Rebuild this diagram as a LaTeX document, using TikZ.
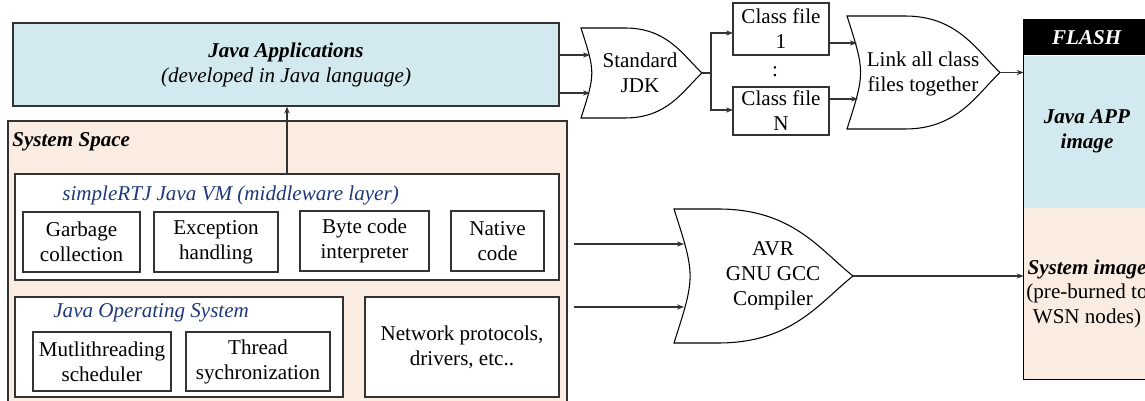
\documentclass[tikz,border=0pt]{standalone}
\usepackage{fontspec}
\setmainfont{Liberation Serif}
\usepackage{tikz}
\usetikzlibrary{positioning, arrows.meta}
\definecolor{appblue}{HTML}{D2E9EF}
\definecolor{syspeach}{HTML}{FBECE2}
\definecolor{vmnavy}{HTML}{1F3A7A}
\tikzset{BoxSize/.style 2 args={%
    minimum width=#1*0.02cm,%
    minimum height=#2*0.02cm,%
}}
\tikzset{AppBox/.style={%
    shape=rectangle,%
    draw=black!80,%
    fill=appblue,%
    line width=0.7pt,%
    inner sep=0pt,%
    align=center,%
}}
\tikzset{SpaceBox/.style={%
    shape=rectangle,%
    draw=black!80,%
    fill=syspeach,%
    line width=0.7pt,%
    inner sep=0pt,%
}}
\tikzset{LayerBox/.style={%
    shape=rectangle,%
    draw=black!80,%
    fill=white,%
    line width=0.6pt,%
    inner sep=0pt,%
    align=center,%
}}
\tikzset{LayerTitle/.style={%
    anchor=west,%
    inner sep=0pt,%
    text=vmnavy,%
    font=\fontsize{12}{14.2}\selectfont\itshape,%
}}
\tikzset{GateLine/.style={%
    draw=black,%
    fill=white,%
    line width=0.6pt,%
}}
\tikzset{GateText/.style={%
    align=center,%
    inner sep=0pt,%
}}
\tikzset{Wire/.style={%
    -{Stealth[length=4pt,width=3pt]},%
    draw=black!80,%
    line width=0.6pt,%
}}
\tikzset{FlashCell/.style={%
    shape=rectangle,%
    inner sep=0pt,%
    align=center,%
    minimum width=126*0.02cm,%
}}
% left x, top y, bottom y, end of flat top, tip x
\newcommand{\orGate}[6]{%
    \draw[GateLine] (#2,#3) -- (#5,#3)
        .. controls ({#5+0.55*(#6-#5)},#3) and ({#6-0.25*(#6-#5)},{#3+0.3*(#4-#3)}) .. ({#6},{(#3+#4)/2})
        .. controls ({#6-0.25*(#6-#5)},{#4-0.3*(#4-#3)}) and ({#5+0.55*(#6-#5)},#4) .. (#5,#4)
        -- (#2,#4) .. controls ({#2+0.16*(#4-#3)},{(#3+#4)/2}) .. (#2,#3) -- cycle;
    \coordinate (#1-tip) at ({#6},{(#3+#4)/2});
}

\begin{document}
\begin{tikzpicture}[x=0.02cm, y=-0.02cm, font=\fontsize{12}{14.2}\selectfont]
    \useasboundingbox (0,0) rectangle (1145,401);

    % applications and system space
    \node[AppBox, BoxSize={546}{83}] (japp) at (286,64.5) {\textbf{\textit{Java Applications}}\\\textit{(developed in Java language)}};
    \node[SpaceBox, BoxSize={559}{289}] (sys) at (287.5,265.5) {};
    \node[anchor=west, inner sep=0pt] (sysTitle) at (12,142) {\textbf{\textit{System Space}}};

    \node[LayerBox, BoxSize={544}{106}] (vm) at (287,227) {};
    \node[LayerTitle] (vmTitle) at (62,195) {simpleRTJ Java VM (middleware layer)};
    \node[LayerBox, BoxSize={117}{60}] (gc) at (81.5,242) {Garbage\\collection};
    \node[LayerBox, BoxSize={124}{60}] (exc) at (216,242) {Exception\\handling};
    \node[LayerBox, BoxSize={129}{60}] (bci) at (364.5,241) {Byte code\\interpreter};
    \node[LayerBox, BoxSize={93}{60}] (nat) at (497.5,241) {Native\\code};

    \node[LayerBox, BoxSize={328}{100}] (jos) at (179,347) {};
    \node[LayerTitle] (josTitle) at (53,313) {Java Operating System};
    \node[LayerBox, BoxSize={138}{59}] (mts) at (102,361.5) {Mutlithreading\\scheduler};
    \node[LayerBox, BoxSize={144}{59}] (tsy) at (258,361.5) {Thread\\sychronization};
    \node[LayerBox, BoxSize={194}{100}] (net) at (462,347) {Network protocols,\\drivers, etc..};

    \draw[Wire] (vm.north) -- (vm.north |- japp.south);

    % tool chain
    \orGate{jdk}{581}{28}{118}{625}{702}
    \node[GateText] (jdkTxt) at (640,73) {Standard\\JDK};
    \orGate{lnk}{847}{16}{129}{905}{1000}
    \node[GateText] (lnkTxt) at (923,74) {Link all class\\files together};
    \orGate{avr}{674}{209}{343}{718}{853}
    \node[GateText] (avrTxt) at (773,276) {AVR\\GNU GCC\\Compiler};

    \node[LayerBox, BoxSize={96}{52}] (cls1) at (781,29) {Class file\\1};
    \node[inner sep=0pt] (clsDots) at (775,72) {:};
    \node[LayerBox, BoxSize={96}{48}] (clsN) at (781,111) {Class file\\N};

    % flash memory
    \node[FlashCell, fill=black, text=white, minimum height=35*0.02cm] (flashHead) at (1087,37.5) {\textbf{\textit{FLASH}}};
    \node[FlashCell, fill=appblue, minimum height=152*0.02cm, below=0pt of flashHead] (flashApp) {\textbf{\textit{Java APP}}\\\textbf{\textit{image}}};
    \node[FlashCell, fill=syspeach, minimum height=171*0.02cm, below=0pt of flashApp] (flashSys) {\textbf{\textit{System image}}\\(pre-burned to\\WSN nodes)};
    \draw[line width=0.8pt] (flashHead.north west) rectangle (flashSys.south east);

    % connectors
    \coordinate (jdkIn1) at (590,55);
    \coordinate (jdkIn2) at (590,93);
    \draw[Wire] (japp.east |- jdkIn1) -- (jdkIn1);
    \draw[Wire] (japp.east |- jdkIn2) -- (jdkIn2);

    \coordinate (split) at (711,73);
    \coordinate (cls1In) at (733,33);
    \coordinate (clsNIn) at (733,110);
    \draw[draw=black!80, line width=0.6pt] (jdk-tip) -- (split);
    \draw[Wire] (split) |- (cls1In);
    \draw[Wire] (split) |- (clsNIn);

    \coordinate (lnkIn1) at (857,43);
    \coordinate (lnkIn2) at (858,99);
    \draw[Wire] (cls1.east |- lnkIn1) -- (lnkIn1);
    \draw[Wire] (clsN.east |- lnkIn2) -- (lnkIn2);
    \draw[Wire] (lnk-tip) -- (lnk-tip -| flashApp.west);

    \coordinate (avrIn1) at (684,244);
    \coordinate (avrIn2) at (684,307);
    \draw[Wire, shorten <=3.4pt] (sys.east |- avrIn1) -- (avrIn1);
    \draw[Wire, shorten <=3.4pt] (sys.east |- avrIn2) -- (avrIn2);
    \draw[Wire] (avr-tip) -- (avr-tip -| flashSys.west);
\end{tikzpicture}
\end{document}
